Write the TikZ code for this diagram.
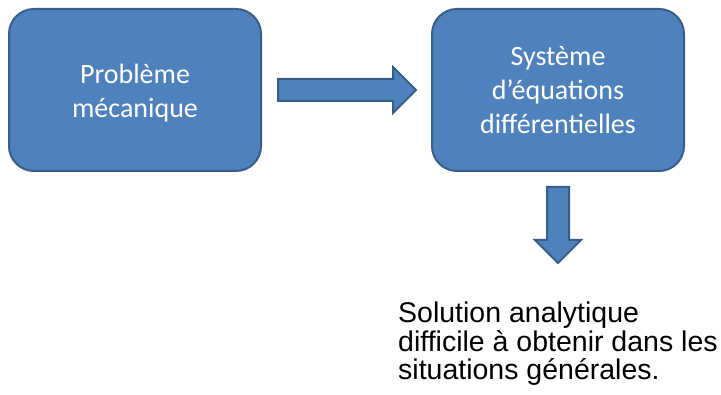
\documentclass[tikz,border=0pt]{standalone}
\usepackage{fontspec}
\setmainfont{Carlito}
\newfontfamily\arialfont{Liberation Sans}
\usepackage{xcolor}
\usepackage{tikz}
\usetikzlibrary{shapes.arrows, positioning, calc}
\definecolor{boxfill}{HTML}{4F81BD}
\definecolor{boxline}{HTML}{385D8A}
\tikzstyle{box} = [draw=boxline, fill=boxfill, line width=2pt, rounded corners=25pt, minimum width=252pt, minimum height=162pt, text=white, align=center, font=\fontsize{28}{34}\selectfont]
\tikzstyle{blockarrow} = [single arrow, draw=boxline, fill=boxfill, line width=2pt, inner sep=10pt, single arrow head extend=12pt, minimum width=43pt, anchor=tail]

\begin{document}
\begin{tikzpicture}[x=1pt, y=-1pt]
    \useasboundingbox (0,0) rectangle (721,395);
    \node (prob) [box] at (135,90) {\rule{0pt}{25.6pt}Problème\\mécanique};
    \node (sys) [box, right=169pt of prob] {Système\\d’équations\\différentielles};
    \node (ra) [blockarrow, minimum height=138pt] at ([xshift=15pt]prob.east) {};
    \node (da) [blockarrow, minimum height=76pt, shape border rotate=270] at ([yshift=-14pt]sys.south) {};
    \node (sol) [anchor=north west, inner sep=0pt, align=left, font=\arialfont\fontsize{28.5}{28.3}\selectfont] at (398,302) {Solution analytique\\difficile à obtenir dans les\\situations générales.};
\end{tikzpicture}
\end{document}
